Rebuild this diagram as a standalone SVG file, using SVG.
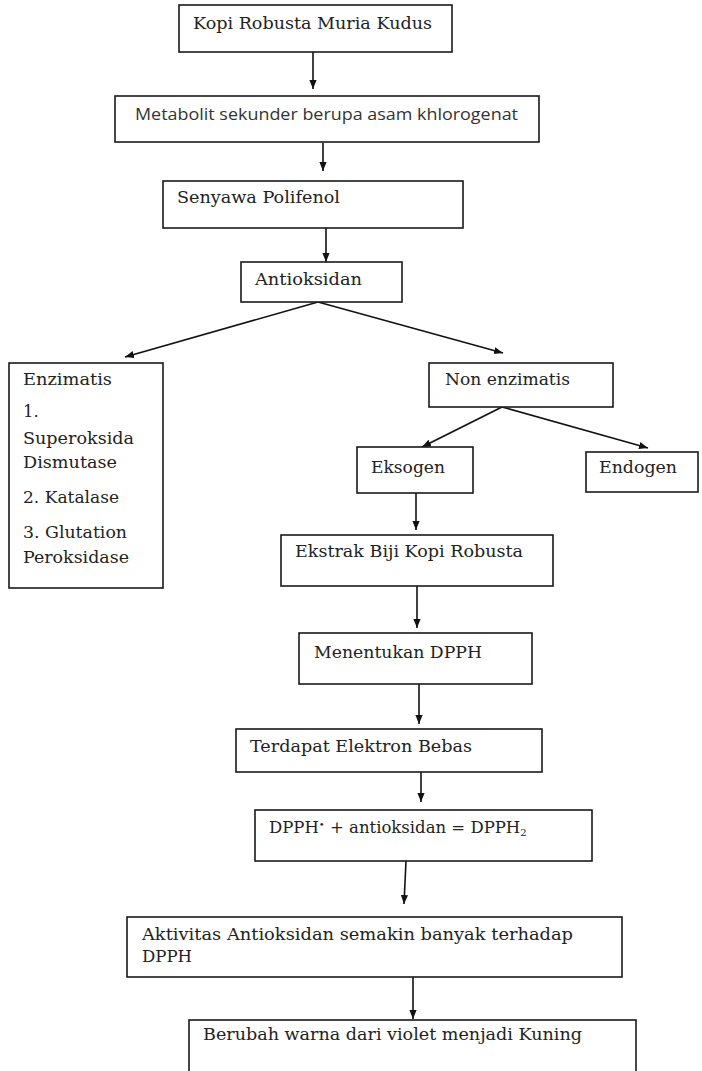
<svg xmlns="http://www.w3.org/2000/svg" width="702" height="1071" viewBox="0 0 702 1071">
<style>
.box{fill:#fff;stroke:#1a1a1a;stroke-width:1.6}
.t{font-family:"DejaVu Serif","Liberation Serif",serif;font-size:16.5px;fill:#222}
.s{font-family:"Open Sans","Liberation Sans",sans-serif;font-size:15.5px;fill:#333}
.sm{font-size:10px}
.c{stroke:#111;stroke-width:1.6;fill:none;marker-end:url(#ah)}
</style>
<defs>
<marker id="ah" markerUnits="userSpaceOnUse" markerWidth="9" markerHeight="9" viewBox="0 0 10 10" refX="10" refY="5" orient="auto">
<path d="M0,1 L10,5 L0,9 z" fill="#111"/>
</marker>
</defs>
<rect width="702" height="1071" fill="#fff"/>
<g id="connectors">
<line class="c" x1="313" y1="52" x2="313" y2="89"/>
<line class="c" x1="323" y1="143" x2="323" y2="171"/>
<line class="c" x1="326" y1="228" x2="326" y2="262"/>
<line class="c" x1="318" y1="302" x2="125" y2="357"/>
<line class="c" x1="318" y1="302" x2="503" y2="353"/>
<line class="c" x1="502" y1="407" x2="422" y2="447"/>
<line class="c" x1="502" y1="407" x2="648" y2="448"/>
<line class="c" x1="416" y1="493" x2="416" y2="530"/>
<line class="c" x1="417" y1="586" x2="417" y2="628"/>
<line class="c" x1="419" y1="684" x2="419" y2="724"/>
<line class="c" x1="421" y1="772" x2="421" y2="802"/>
<line class="c" x1="406" y1="861" x2="404" y2="904"/>
<line class="c" x1="413" y1="977" x2="413" y2="1019"/>
</g>
<g id="n1"><rect class="box" x="179" y="5" width="273" height="47"/><text class="t" x="193" y="29" textLength="239" lengthAdjust="spacingAndGlyphs">Kopi Robusta Muria Kudus</text></g>
<g id="n2"><rect class="box" x="115" y="96" width="424" height="46"/><text class="s" x="135" y="120" textLength="383" lengthAdjust="spacingAndGlyphs">Metabolit sekunder berupa asam khlorogenat</text></g>
<g id="n3"><rect class="box" x="163" y="181" width="300" height="47"/><text class="t" x="177" y="203" textLength="163" lengthAdjust="spacingAndGlyphs">Senyawa Polifenol</text></g>
<g id="n4"><rect class="box" x="241" y="262" width="161" height="40"/><text class="t" x="255" y="285" textLength="107" lengthAdjust="spacingAndGlyphs">Antioksidan</text></g>
<g id="n5"><rect class="box" x="9" y="363" width="154" height="225"/>
<text class="t" x="23" y="385" textLength="89" lengthAdjust="spacingAndGlyphs">Enzimatis</text>
<text class="t" x="23" y="417">1.</text>
<text class="t" x="23" y="444" textLength="111" lengthAdjust="spacingAndGlyphs">Superoksida</text>
<text class="t" x="23" y="468" textLength="94" lengthAdjust="spacingAndGlyphs">Dismutase</text>
<text class="t" x="23" y="503" textLength="96" lengthAdjust="spacingAndGlyphs">2. Katalase</text>
<text class="t" x="23" y="538" textLength="104" lengthAdjust="spacingAndGlyphs">3. Glutation</text>
<text class="t" x="23" y="563" textLength="106" lengthAdjust="spacingAndGlyphs">Peroksidase</text>
</g>
<g id="n6"><rect class="box" x="429" y="363" width="184" height="44"/><text class="t" x="445" y="385" textLength="125" lengthAdjust="spacingAndGlyphs">Non enzimatis</text></g>
<g id="n7"><rect class="box" x="357" y="447" width="116" height="46"/><text class="t" x="371" y="473" textLength="74" lengthAdjust="spacingAndGlyphs">Eksogen</text></g>
<g id="n8"><rect class="box" x="586" y="452" width="112" height="40"/><text class="t" x="599" y="473" textLength="78" lengthAdjust="spacingAndGlyphs">Endogen</text></g>
<g id="n9"><rect class="box" x="281" y="535" width="272" height="51"/><text class="t" x="295" y="557" textLength="228" lengthAdjust="spacingAndGlyphs">Ekstrak Biji Kopi Robusta</text></g>
<g id="n10"><rect class="box" x="299" y="633" width="233" height="51"/><text class="t" x="314" y="658" textLength="168" lengthAdjust="spacingAndGlyphs">Menentukan DPPH</text></g>
<g id="n11"><rect class="box" x="236" y="729" width="306" height="43"/><text class="t" x="250" y="752" textLength="222" lengthAdjust="spacingAndGlyphs">Terdapat Elektron Bebas</text></g>
<g id="n12"><rect class="box" x="255" y="810" width="337" height="51"/>
<text class="t" x="269" y="833">DPPH<tspan class="sm" dy="-5">•</tspan><tspan dy="5"> + antioksidan = DPPH</tspan><tspan class="sm" dy="3">2</tspan></text></g>
<g id="n13"><rect class="box" x="127" y="917" width="495" height="60"/><text class="t" x="142" y="940" textLength="431" lengthAdjust="spacingAndGlyphs">Aktivitas Antioksidan semakin banyak  terhadap</text><text class="t" x="142" y="962" textLength="50" lengthAdjust="spacingAndGlyphs">DPPH</text></g>
<g id="n14"><rect class="box" x="189" y="1020" width="447" height="60"/><text class="t" x="203" y="1040" textLength="379" lengthAdjust="spacingAndGlyphs">Berubah warna dari violet menjadi Kuning</text></g>
</svg>
